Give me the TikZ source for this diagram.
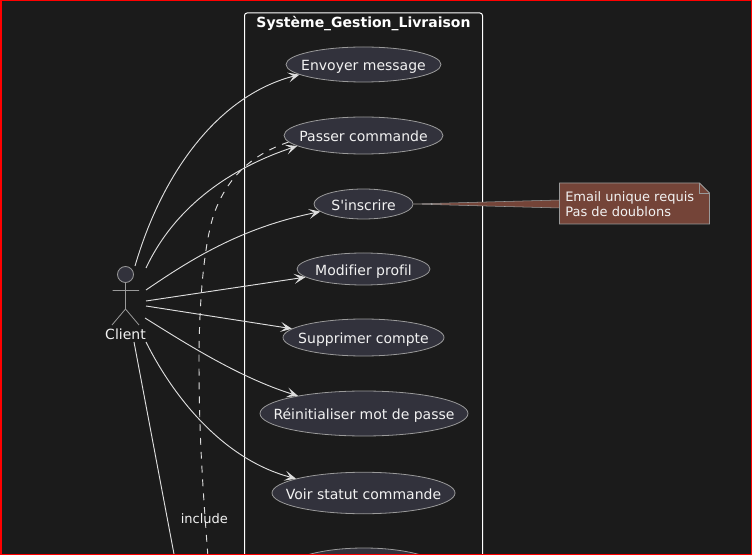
\documentclass[tikz,border=0pt]{standalone}
\usepackage{fontspec}
\newfontfamily\mainfam[Ligatures=NoCommon]{DejaVu Sans}
\usetikzlibrary{arrows.meta,shapes.geometric}
\definecolor{bg}{HTML}{1B1B1B}
\definecolor{ufill}{HTML}{32323C}
\definecolor{ustroke}{HTML}{9A9A9A}
\definecolor{ink}{HTML}{F2F2F2}
\definecolor{wire}{HTML}{DDDDDD}
\definecolor{notefill}{HTML}{744438}
\definecolor{framered}{HTML}{FF0000}
\tikzset{
  x=0.75pt,y=-0.75pt,
  usecase/.style={draw=ustroke,fill=ufill,ellipse,inner sep=0pt,text=ink,font=\fontsize{10.5pt}{12.5pt}\selectfont,line width=0.6pt},
  flow/.style={draw=wire,line width=0.7pt,-{Stealth[length=8.5pt,width=7.5pt,inset=4pt]}},
  plain/.style={draw=wire,line width=0.7pt},
  incl/.style={draw=wire,line width=0.7pt,dash pattern=on 5.2pt off 5.2pt},
  actorline/.style={draw=ustroke,line width=0.6pt},
  lbl/.style={text=ink,inner sep=0pt,font=\fontsize{10.5pt}{12.5pt}\selectfont},
}
\newcommand{\uc}[6]{\node[usecase,minimum width=#4*0.75pt,minimum height=#5*0.75pt] (#1) at (#2,#3) {\smash{\makebox[0pt]{\raisebox{-0.43em}{#6}}}};}
\begin{document}
\begin{tikzpicture}
\mainfam
\useasboundingbox (0,0) rectangle (752,555);
\fill[bg] (0,0) rectangle (752,555);
\begin{scope}
\clip (0,0) rectangle (752,555);
% system frame
\draw[white,line width=0.75pt,rounded corners=1.9pt] (244.5,600) -- (244.5,13) -- (482.5,13) -- (482.5,600);
\node[inner sep=0pt,text=white,font=\fontsize{10.5pt}{12.5pt}\selectfont\bfseries] (systitle) at (363.5,23.2) {Système\_Gestion\_Livraison};
% use cases
\uc{env}{363.5}{64.5}{155}{35}{Envoyer message}
\uc{pas}{363.5}{135.5}{159}{37}{Passer commande}
\uc{ins}{363.5}{204}{99}{30}{S'inscrire}
\uc{mod}{363.5}{269}{133}{32}{Modifier profil}
\uc{sup}{363.5}{337.5}{161}{37}{Supprimer compte}
\uc{rei}{364}{413.5}{208}{45}{Réinitialiser mot de passe}
\uc{voi}{363.5}{493}{183}{41.5}{Voir statut commande}
\uc{hid}{364}{573}{164}{50}{}
% note
\coordinate (wa) at (559.5,200);
\coordinate (wb) at (559.5,208);
\fill[notefill] (ins.east) -- (wa) -- (wb) -- cycle;
\draw[ustroke,line width=0.4pt] (ins.east) -- (wa) (ins.east) -- (wb);
\draw[ustroke,fill=notefill,line width=0.6pt] (559.5,183) -- (699.5,183) -- (709.5,193) -- (709.5,224) -- (559.5,224) -- cycle;
\draw[ustroke,line width=0.6pt] (699.5,183) -- (699.5,193) -- (709.5,193);
\node[lbl,align=left,anchor=north west,text=ink,font=\fontsize{9.75pt}{11pt}\selectfont] (notetext) at (565,191.5) {Email unique requis\\Pas de doublons};
% actor
\draw[actorline,fill=ufill] (125.5,274.5) circle[radius=8];
\draw[actorline] (125.5,282.5) -- (125.5,309) (112.5,290.5) -- (139,290.5) (112,325) -- (125.5,309) -- (139,325);
\node[lbl] (client) at (125.5,334) {Client};
\coordinate (a1) at (135,266);
\coordinate (a2) at (146,268);
\coordinate (a3) at (146,290);
\coordinate (a4) at (146,301);
\coordinate (a5) at (146,306);
\coordinate (a6) at (145,318);
\coordinate (a7) at (146,342);
\coordinate (a8) at (134,342);
\coordinate (off1) at (177,570);
\coordinate (off2) at (209,570);
% connectors
\draw[flow] (a1) .. controls (163,170) and (220,95) .. (env.189.2);
\draw[flow] (a2) .. controls (178,200) and (240,165) .. (pas.189.5);
\draw[flow] (a3) .. controls (190,260) and (240,228) .. (ins.190.9);
\draw[flow] (a4) -- (mod.188.1);
\draw[flow] (a5) -- (sup.173);
\draw[flow] (a6) .. controls (185,343) and (240,378) .. (rei.165.6);
\draw[flow] (a7) .. controls (175,400) and (225,460) .. (voi.168.8);
\draw[plain] (a8) -- (off1);
\draw[incl] (pas.185.7) .. controls (250,155) and (225,180) .. (213,217) .. controls (203,250) and (199,310) .. (199,360) .. controls (199,430) and (202,480) .. (off2);
\node[lbl,font=\fontsize{9.75pt}{11.5pt}\selectfont,inner sep=1pt] (inc) at (204.3,518.5) {include};
\end{scope}
\draw[framered,line width=1.5pt] (0.5,0.5) rectangle (751.5,554.5);
\end{tikzpicture}
\end{document}
